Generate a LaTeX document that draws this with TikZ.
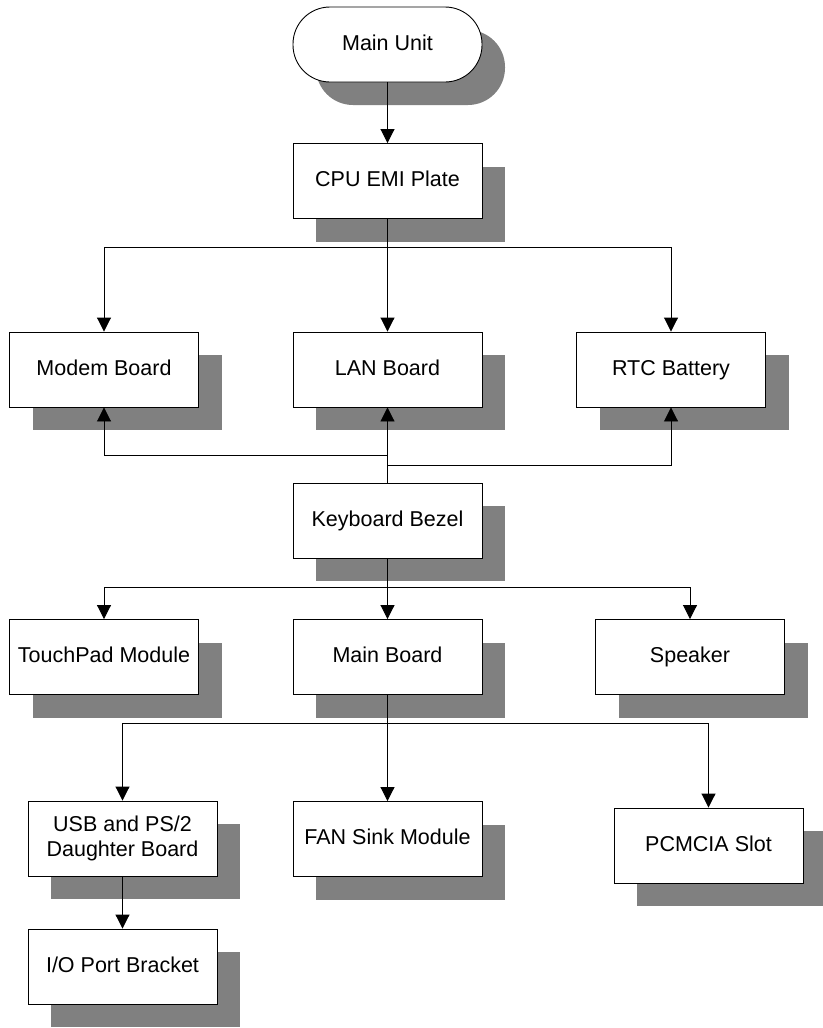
\documentclass[tikz,border=0pt]{standalone}
\usepackage{fontspec}
\setmainfont{Liberation Sans}
\usetikzlibrary{arrows.meta,shadows}
\definecolor{shadowgray}{HTML}{808080}
\begin{document}
\begin{tikzpicture}[x=1pt,y=-1pt,
  box/.style={draw=black,line width=0.9pt,fill=white,inner sep=0pt,
    minimum width=189pt,minimum height=75pt,align=center,
    font=\fontsize{21.5}{25}\selectfont,text height=15.5pt,text depth=4.5pt,
    drop shadow={shadow xshift=23pt,shadow yshift=-23pt,fill=shadowgray,opacity=1}},
  twoline/.style={text height={},text depth={}},
  term/.style={box,rounded corners=37pt},
  conn/.style={draw=black,line width=0.9pt},
  arr/.style={conn,-{Triangle[width=14pt,length=14pt]}}]
\useasboundingbox (0,0) rectangle (822,1028);
\node[term] (main) at (387.5,44.5) {Main Unit};
\node[box] (cpu) at (387.5,181) {CPU EMI Plate};
\node[box] (modem) at (104,369.5) {Modem Board};
\node[box] (lan) at (387.5,369.5) {LAN Board};
\node[box] (rtc) at (671,369.5) {RTC Battery};
\node[box] (kb) at (387.5,520.5) {Keyboard Bezel};
\node[box] (touch) at (104,657) {TouchPad Module};
\node[box] (mb) at (387.5,657) {Main Board};
\node[box] (spk) at (690,657) {Speaker};
\node[box,twoline] (usb) at (122.5,838.5) {USB and PS/2\\Daughter Board};
\node[box] (fan) at (387.5,839) {FAN Sink Module};
\node[box] (pcm) at (708.5,845.5) {PCMCIA Slot};
\node[box] (io) at (122.5,966.5) {I/O Port Bracket};
\coordinate (j1) at (387.5,247);
\coordinate (j2) at (387.5,455);
\coordinate (j3) at (387.5,465);
\coordinate (j4) at (387.5,587);
\coordinate (j5) at (387.5,723);
\draw[arr] (main) -- (cpu);
\draw[conn] (cpu) -- (j1);
\draw[arr] (j1) -| (modem.north);
\draw[arr] (j1) -- (lan);
\draw[arr] (j1) -| (rtc.north);
\draw[arr] (kb) -- (lan);
\draw[arr] (j2) -| (modem.south);
\draw[arr] (j3) -| (rtc.south);
\draw[conn] (kb) -- (j4);
\draw[arr] (j4) -| (touch.north);
\draw[arr] (j4) -- (mb);
\draw[arr] (j4) -| (spk.north);
\draw[conn] (mb) -- (j5);
\draw[arr] (j5) -| (usb.north);
\draw[arr] (j5) -- (fan);
\draw[arr] (j5) -| (pcm.north);
\draw[arr] (usb) -- (io);
\end{tikzpicture}
\end{document}
